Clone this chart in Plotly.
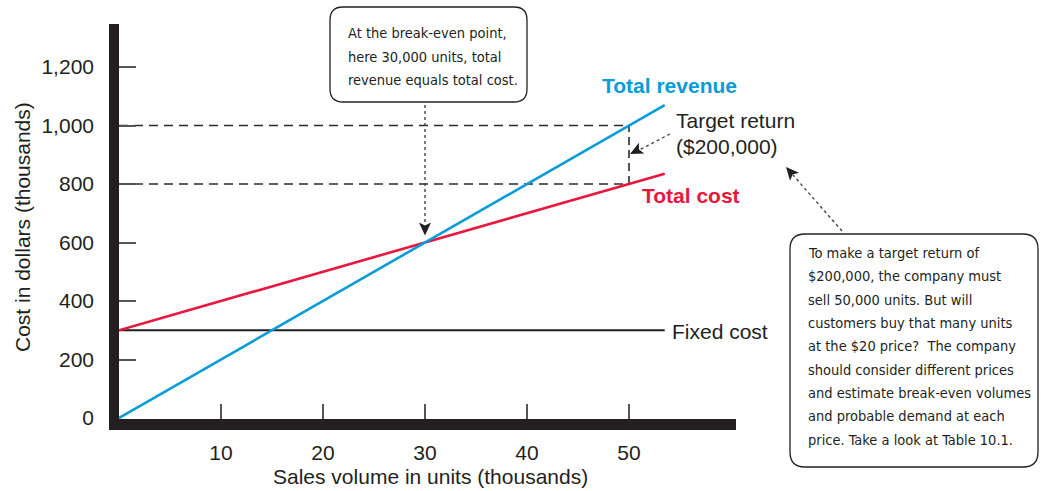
import plotly.graph_objects as go

# ---- data (sales volume and dollars, both in thousands) ----
volume_range = [0, 53.5]          # start and end of the plotted volume span
price = 20                        # $ per unit
fixed_cost = 300
variable_cost = 10                # $ per unit
break_even_units = 30
target_units = 50
x_ticks = [10, 20, 30, 40, 50]
y_ticks = [0, 200, 400, 600, 800, 1000, 1200]

revenue = [price * v for v in volume_range]
total_cost = [fixed_cost + variable_cost * v for v in volume_range]
fixed = [fixed_cost for _ in volume_range]
target_revenue = price * target_units
target_cost = fixed_cost + variable_cost * target_units
break_even_value = price * break_even_units

# ---- layout geometry (pixels) ----
W_PX, H_PX = 1041, 491
PL, PR, PT, PB = 119, 735, 24, 419
PW, PH = PR - PL, PB - PT
X_RANGE = [0, PW / 10.2]
Y_PER_PX = 1 / 0.2925
Y_RANGE = [-(PB - 418) * Y_PER_PX, (418 - PT) * Y_PER_PX]


def fx(px):
    return (px - PL) / PW


def fy(py):
    return (PB - py) / PH


BLUE = "#0a9bd8"
RED = "#e8173e"
INK = "#231f20"
MAIN_FONT = "Liberation Sans, Arial, Helvetica, sans-serif"
NOTE_FONT = "Liberation Sans Narrow, Arial Narrow, DejaVu Sans Condensed, sans-serif"
NOTE_SIZE = 14.5

fig = go.Figure()

# guide lines for the target-return case
fig.add_trace(go.Scatter(x=[0, target_units], y=[target_revenue, target_revenue], mode="lines",
                         line=dict(color="#2a2a2a", width=1.4, dash="9px,6px"), hoverinfo="skip"))
fig.add_trace(go.Scatter(x=[0, target_units], y=[target_cost, target_cost], mode="lines",
                         line=dict(color="#2a2a2a", width=1.4, dash="9px,6px"), hoverinfo="skip"))
fig.add_trace(go.Scatter(x=[target_units, target_units], y=[target_cost, target_revenue], mode="lines",
                         line=dict(color="#555555", width=2, dash="8px,5px"), hoverinfo="skip"))

# cost and revenue lines
fig.add_trace(go.Scatter(x=volume_range, y=fixed, mode="lines", line=dict(color=INK, width=2.2)))
fig.add_trace(go.Scatter(x=volume_range, y=total_cost, mode="lines", line=dict(color=RED, width=2.6)))
fig.add_trace(go.Scatter(x=volume_range, y=revenue, mode="lines", line=dict(color=BLUE, width=2.6)))

shapes = []
# heavy axis bars
shapes.append(dict(type="rect", xref="paper", yref="paper", x0=fx(109), x1=fx(119), y0=fy(430), y1=fy(PT),
                   fillcolor=INK, line=dict(width=0), layer="above"))
shapes.append(dict(type="rect", xref="paper", yref="paper", x0=fx(109), x1=fx(736), y0=fy(430), y1=fy(419),
                   fillcolor=INK, line=dict(width=0), layer="above"))


def rounded_box(x0, y0, x1, y1, r):
    rx, ry = r / PW, r / PH
    a0, a1, b0, b1 = fx(x0), fx(x1), fy(y1), fy(y0)   # b0 bottom, b1 top
    return (f"M{a0 + rx},{b1} L{a1 - rx},{b1} Q{a1},{b1} {a1},{b1 - ry} "
            f"L{a1},{b0 + ry} Q{a1},{b0} {a1 - rx},{b0} L{a0 + rx},{b0} "
            f"Q{a0},{b0} {a0},{b0 + ry} L{a0},{b1 - ry} Q{a0},{b1} {a0 + rx},{b1} Z")


for box in [(330, 7, 527, 102, 13), (790, 234, 1038, 467, 15)]:
    shapes.append(dict(type="path", xref="paper", yref="paper", path=rounded_box(*box),
                       fillcolor="white", line=dict(color=INK, width=1.3), layer="above"))


def dotted(x0, y0, x1, y1):
    shapes.append(dict(type="line", xref="paper", yref="paper", x0=fx(x0), y0=fy(y0), x1=fx(x1), y1=fy(y1),
                       line=dict(color="#444444", width=1.4, dash="dot"), layer="above"))


def head(tx, ty, fromx, fromy, length=13, half=6):
    dx, dy = tx - fromx, ty - fromy
    n = (dx * dx + dy * dy) ** 0.5
    ux, uy = dx / n, dy / n
    bx, by = tx - ux * length, ty - uy * length
    px_, py_ = -uy, ux
    pts = [(tx, ty), (bx + px_ * half, by + py_ * half), (bx + ux * 3, by + uy * 3),
           (bx - px_ * half, by - py_ * half)]
    path = "M" + " L".join(f"{fx(a)},{fy(b)}" for a, b in pts) + " Z"
    shapes.append(dict(type="path", xref="paper", yref="paper", path=path,
                       fillcolor=INK, line=dict(width=0), layer="above"))


# break-even pointer, anchored on the break-even volume
be_px = PL + (break_even_units - X_RANGE[0]) / (X_RANGE[1] - X_RANGE[0]) * PW
be_py = 418 - break_even_value / Y_PER_PX
dotted(be_px, 105, be_px, be_py - 18)
head(be_px, be_py - 7, be_px, 105)

# target-return pointer
tr_px = PL + target_units / (X_RANGE[1] - X_RANGE[0]) * PW
dotted(670, 134, tr_px + 10, 150)
head(tr_px + 1, 154, 670, 134)

# note pointer
dotted(842, 231, 793, 175)
head(786, 167, 842, 231)

annotations = []


def text(s, x, y, size=21, color=INK, bold=False, font=MAIN_FONT, xanchor="left", angle=0):
    annotations.append(dict(text=f"<b>{s}</b>" if bold else s, x=fx(x), y=fy(y), xref="paper", yref="paper",
                            xanchor=xanchor, yanchor="middle", showarrow=False, textangle=angle,
                            font=dict(family=font, size=size, color=color)))


text("Total revenue", 600, 86, bold=True, color=BLUE)
text("Total cost", 640, 195, bold=True, color=RED)
text("Target return", 674, 121)
text("($200,000)", 674, 146)
text("Fixed cost", 670, 331)
text("Cost in dollars (thousands)", 22, 227, angle=-90, xanchor="center")
text("Sales volume in units (thousands)", 431, 477, xanchor="center")

note1 = ["At the break-even point,", "here 30,000 units, total", "revenue equals total cost."]
for i, line in enumerate(note1):
    text(line, 346, 33 + i * 23.5, size=NOTE_SIZE, font=NOTE_FONT)

note2 = ["To make a target return of", "$200,000, the company must", "sell 50,000 units. But will",
         "customers buy that many units", "at the $20 price?  The company",
         "should consider different prices", "and estimate break-even volumes",
         "and probable demand at each", "price. Take a look at Table 10.1."]
for i, line in enumerate(note2):
    text(line, 806, 253 + i * 23.35, size=NOTE_SIZE, font=NOTE_FONT)

fig.update_layout(
    width=W_PX, height=H_PX,
    margin=dict(l=PL, r=W_PX - PR, t=PT, b=H_PX - PB, pad=0),
    paper_bgcolor="white", plot_bgcolor="white",
    showlegend=False,
    shapes=shapes, annotations=annotations,
    font=dict(family=MAIN_FONT, size=21, color=INK),
    xaxis=dict(range=X_RANGE, tickvals=x_ticks, ticks="inside", ticklen=15, tickwidth=2,
               tickcolor="#555555", showgrid=False, zeroline=False, showline=False,
               ticklabelstandoff=19, tickfont=dict(size=21, color=INK), fixedrange=True),
    yaxis=dict(range=Y_RANGE, tickvals=y_ticks, tickformat=",", ticks="inside", ticklen=17, tickwidth=2,
               tickcolor="#555555", showgrid=False, zeroline=False, showline=False,
               ticklabelstandoff=24, tickfont=dict(size=21, color=INK), fixedrange=True),
)

fig.write_html("out.html")
